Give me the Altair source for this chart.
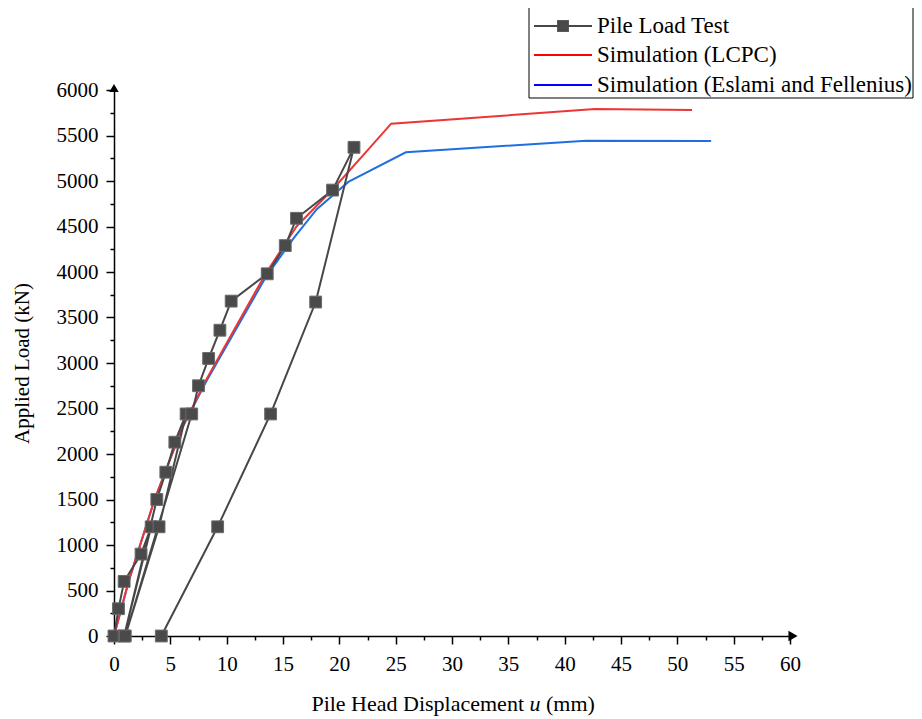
import altair as alt
import pandas as pd

# ---------------- data ----------------
test_disp = [0.0, 0.4, 0.9, 2.4, 3.3, 0.9, 3.8, 4.6, 5.4, 6.4, 4.0, 1.0, 6.9, 7.5, 8.4,
             9.4, 10.4, 13.6, 15.2, 16.2, 19.4, 21.3, 17.9, 13.9, 9.2, 4.2]
test_load = [0, 300, 600, 900, 1200, 0, 1500, 1800, 2130, 2440, 1200, 0, 2440, 2750, 3050,
             3360, 3680, 3980, 4290, 4590, 4900, 5370, 3670, 2440, 1200, 0]

lcpc_disp = [0.0, 1.3, 3.6, 6.1, 8.2, 10.5, 13.5, 16.2, 19.5, 22.4, 24.6, 42.7, 51.3]
lcpc_load = [0, 600, 1500, 2300, 2820, 3330, 3990, 4500, 4920, 5322, 5630, 5790, 5780]

ef_disp = [0.0, 1.3, 3.6, 6.1, 8.2, 10.5, 13.5, 16.0, 18.0, 20.8, 25.9, 41.9, 53.0]
ef_load = [0, 600, 1500, 2300, 2800, 3300, 3950, 4380, 4690, 4990, 5315, 5443, 5440]

x_ticks = [i * 2.5 for i in range(25)]
y_ticks = [i * 250 for i in range(25)]

legend_labels = ["Pile Load Test", "Simulation (LCPC)", "Simulation (Eslami and Fellenius)"]

W, H = 676, 546
FONT = "Liberation Serif"

test_df = pd.DataFrame({"x": test_disp, "y": test_load, "order": list(range(len(test_disp)))})
lcpc_df = pd.DataFrame({"x": lcpc_disp, "y": lcpc_load, "order": list(range(len(lcpc_disp)))})
ef_df = pd.DataFrame({"x": ef_disp, "y": ef_load, "order": list(range(len(ef_disp)))})

xscale = alt.Scale(domain=[0, 60], nice=False, zero=True)
yscale = alt.Scale(domain=[0, 6000], nice=False, zero=True)

x_axis = alt.Axis(
    values=x_ticks, title=None, format="d", labelPadding=9,
    labelExpr="datum.value % 5 === 0 ? datum.label : ''",
    tickSize={"condition": {"test": "datum.value % 5 === 0", "value": 8}, "value": 4},
)
y_axis = alt.Axis(
    values=y_ticks, title="Applied Load (kN)", format="d", labelPadding=8,
    labelExpr="datum.value % 500 === 0 ? datum.label : ''",
    tickSize={"condition": {"test": "datum.value % 500 === 0", "value": 8}, "value": 4},
    titleX=-92, titleY=H / 2, titleAngle=-90, titleBaseline="middle", titleAlign="center",
)


def enc(ch):
    return ch.encode(
        x=alt.X("x:Q", scale=xscale, axis=x_axis),
        y=alt.Y("y:Q", scale=yscale, axis=y_axis),
    )


ef_line = enc(alt.Chart(ef_df).mark_line(color="#1f6fe0", strokeWidth=2)).encode(order="order:Q")
lcpc_line = enc(alt.Chart(lcpc_df).mark_line(color="#ee3535", strokeWidth=2)).encode(order="order:Q")
test_line = enc(alt.Chart(test_df).mark_line(color="#474747", strokeWidth=2)).encode(order="order:Q")
test_pts = enc(alt.Chart(test_df).mark_point(
    shape="square", filled=True, size=140, color="#4a4a4a", opacity=1,
    stroke="#6a6a6a", strokeWidth=1,
))

# axis arrowheads
arrow_x = enc(alt.Chart(pd.DataFrame({"x": [60], "y": [0]})).mark_point(
    shape="triangle-right", filled=True, size=110, color="black", opacity=1, xOffset=3))
arrow_y = enc(alt.Chart(pd.DataFrame({"x": [0], "y": [6000]})).mark_point(
    shape="triangle-up", filled=True, size=90, color="black", opacity=1, yOffset=-2))

# x-axis title with italic u
one = pd.DataFrame({"a": [0]})
TY = H + 68
TFS = 22
xt1 = alt.Chart(one).mark_text(text="Pile Head Displacement", font=FONT, fontSize=TFS,
                               align="right", baseline="middle", color="black").encode(
    x=alt.value(410), y=alt.value(TY))
xt2 = alt.Chart(one).mark_text(text="u", font=FONT, fontSize=TFS, fontStyle="italic",
                               align="center", baseline="middle", color="black").encode(
    x=alt.value(421), y=alt.value(TY))
xt3 = alt.Chart(one).mark_text(text="(mm)", font=FONT, fontSize=TFS,
                               align="left", baseline="middle", color="black").encode(
    x=alt.value(432), y=alt.value(TY))

# manual legend (box, lines, square, labels)
LX0, LX1, LY0, LY1 = 415, 799, -85, 8
leg_box = alt.Chart(one).mark_rect(fill="white", stroke="black", strokeWidth=1).encode(
    x=alt.value(LX0), x2=alt.value(LX1), y=alt.value(LY0), y2=alt.value(LY1))
leg_rows = [-64, -35, -5]
leg_colors = ["#474747", "#ff0000", "#0000ff"]
leg_layers = [leg_box]
for lab, ry, col in zip(legend_labels, leg_rows, leg_colors):
    leg_layers.append(alt.Chart(one).mark_rule(color=col, strokeWidth=2).encode(
        x=alt.value(LX0 + 5), x2=alt.value(LX0 + 63), y=alt.value(ry)))
    leg_layers.append(alt.Chart(one).mark_text(text=lab, font=FONT, fontSize=23,
                                               align="left", baseline="middle",
                                               color="black").encode(
        x=alt.value(LX0 + 68), y=alt.value(ry)))
leg_layers.append(alt.Chart(one).mark_point(shape="square", filled=True, size=140,
                                            color="#4a4a4a", opacity=1).encode(
    x=alt.value(LX0 + 34), y=alt.value(leg_rows[0])))

chart = alt.layer(
    ef_line, lcpc_line, test_line, test_pts, arrow_x, arrow_y, xt1, xt2, xt3, *leg_layers
).properties(
    width=W, height=H,
    autosize=alt.AutoSizeParams(type="none"),
    padding={"left": 106, "top": 82, "right": 124, "bottom": 86},
).configure(
    background="white",
    view=alt.ViewConfig(stroke=None),
    axis=alt.AxisConfig(
        grid=False, domainColor="black", domainWidth=1.5, tickColor="black", tickWidth=1.5,
        labelFont=FONT, labelFontSize=21, labelColor="black",
        labelFlush=False, labelOverlap=False,
        titleFont=FONT, titleFontSize=21, titleFontWeight="normal", titleColor="black",
    ),
)

chart.save("out.html", embed_options={"renderer": "svg", "actions": False})
